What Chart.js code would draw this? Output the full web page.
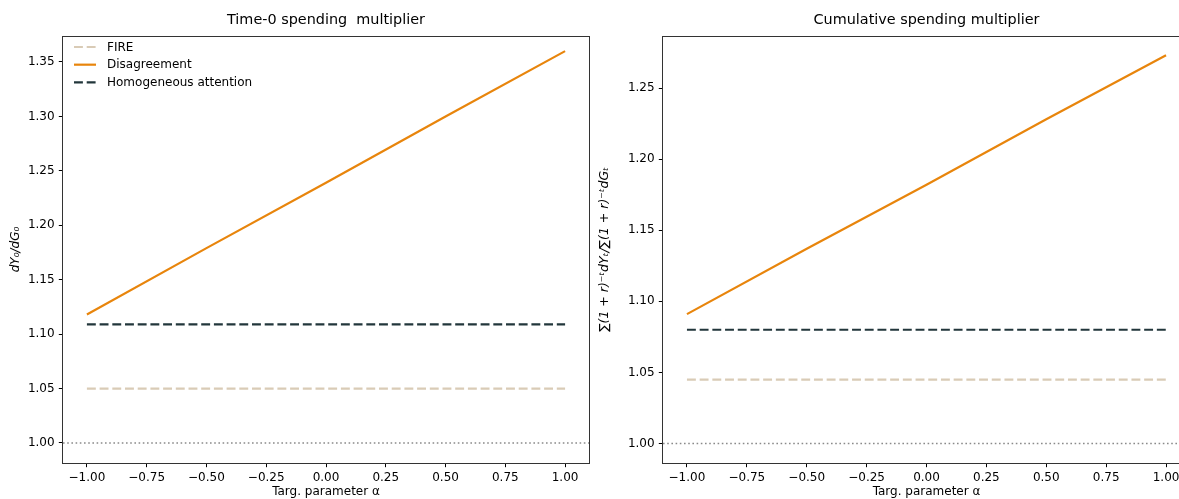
<!DOCTYPE html>
<html>
<head>
<meta charset="utf-8">
<script src="https://cdn.jsdelivr.net/npm/chart.js@4/dist/chart.umd.min.js"></script>
<style>
html,body{margin:0;padding:0;background:#fff;width:1179px;height:499px;overflow:hidden;}
canvas{position:absolute;top:0;}
#c1{left:0;}
#c2{left:595px;}
</style>
</head>
<body>
<canvas id="c1" width="600" height="499"></canvas>
<canvas id="c2" width="595" height="499"></canvas>
<script>
// ---- data ----
const alpha = [-1.0, -0.5, 0.0, 0.5, 1.0];
const refX = [-1.1, 1.1];
const refY = [1.0, 1.0];

const t0Fire = [1.050, 1.050, 1.050, 1.050, 1.050];
const t0Disagreement = [1.118, 1.179, 1.239, 1.300, 1.360];
const t0Homogeneous = [1.109, 1.109, 1.109, 1.109, 1.109];

const cumFire = [1.045, 1.045, 1.045, 1.045, 1.045];
const cumDisagreement = [1.091, 1.137, 1.182, 1.228, 1.273];
const cumHomogeneous = [1.080, 1.080, 1.080, 1.080, 1.080];

const xTicks = [-1.0, -0.75, -0.5, -0.25, 0.0, 0.25, 0.5, 0.75, 1.0];
const yTicksLeft = [1.00, 1.05, 1.10, 1.15, 1.20, 1.25, 1.30, 1.35];
const yTicksRight = [1.00, 1.05, 1.10, 1.15, 1.20, 1.25];

const seriesNames = ['FIRE', 'Disagreement', 'Homogeneous attention'];
const titles = ['Time-0 spending  multiplier', 'Cumulative spending multiplier'];
const xLabel = 'Targ. parameter α';
const yLabels = ['dY₀/dG₀', '∑(1 + r)⁻ᵗdYₜ/∑(1 + r)⁻ᵗdGₜ'];

// ---- styling ----
const FONT = 'DejaVu Sans';
const COLORS = ['#d9cbb6', '#e8850c', '#22363b'];
const DASHES = [[8.9, 3.8], [], [8.9, 3.8]];
Chart.defaults.font.family = FONT;
Chart.defaults.color = '#000';

function fmt(v) {
  const s = Math.abs(v).toFixed(2);
  return (v < -1e-9 ? '\u2212' : '') + s;
}
const pts = (xs, ys) => xs.map((x, i) => ({x: x, y: ys[i]}));

const boxPlugin = {
  id: 'box',
  afterDatasetsDraw(chart) {
    const a = chart.chartArea, ctx = chart.ctx;
    ctx.save();
    ctx.strokeStyle = '#333';
    ctx.lineWidth = 1;
    ctx.strokeRect(Math.round(a.left) - 0.5, Math.round(a.top) + 0.5, Math.round(a.right - a.left) + 1, Math.round(a.bottom - a.top));
    ctx.restore();
  }
};

const legendPlugin = {
  id: 'inlegend',
  afterDraw(chart, args, opts) {
    if (!opts.show) return;
    const a = chart.chartArea, ctx = chart.ctx;
    ctx.save();
    ctx.font = '12px "' + FONT + '"';
    ctx.textBaseline = 'middle';
    ctx.fillStyle = '#000';
    const items = chart.data.datasets.filter(d => d.inLegend);
    items.forEach((d, i) => {
      const y = a.top + 11 + i * 17.7;
      ctx.strokeStyle = d.borderColor;
      ctx.lineWidth = d.borderWidth;
      ctx.setLineDash(d.borderDash || []);
      ctx.beginPath();
      ctx.moveTo(a.left + 11, y);
      ctx.lineTo(a.left + 33, y);
      ctx.stroke();
      ctx.setLineDash([]);
      ctx.fillText(d.label, a.left + 44, y + 0.5);
    });
    ctx.restore();
  }
};

function makeChart(id, cfg) {
  const datasets = [
    {label: 'ref', data: pts(refX, refY), borderColor: '#8a8a8a', borderWidth: 1.6, borderDash: [1.6, 2.6], inLegend: false},
  ];
  cfg.series.forEach((s, i) => {
    datasets.push({
      label: seriesNames[i], data: pts(alpha, s), borderColor: COLORS[i],
      borderWidth: 2.2, borderDash: DASHES[i], inLegend: true
    });
  });
  datasets.forEach(d => { d.pointRadius = 0; d.fill = false; d.tension = 0; d.borderCapStyle = 'butt'; });

  return new Chart(document.getElementById(id), {
    type: 'line',
    data: {datasets: datasets},
    plugins: [boxPlugin, legendPlugin],
    options: {
      responsive: false,
      animation: false,
      devicePixelRatio: 1,
      layout: {padding: {left: 0, right: cfg.padRight, top: 0, bottom: 0}},
      plugins: {
        legend: {display: false},
        tooltip: {enabled: false},
        title: {display: true, text: cfg.title, color: '#000', fullSize: false,
                font: {size: 14.4, family: FONT, weight: 'normal'},
                padding: {top: 12, bottom: 6.7}},
        inlegend: {show: cfg.legend}
      },
      scales: {
        x: {
          type: 'linear', min: -1.1, max: 1.1,
          afterBuildTicks: s => { s.ticks = xTicks.map(v => ({value: v})); },
          afterFit: s => { s.height = 36; },
          ticks: {callback: v => fmt(v), font: {size: 12}, color: '#000', padding: 3.5, maxRotation: 0, autoSkip: false},
          grid: {display: true, drawOnChartArea: false, drawTicks: true, tickLength: 4.2, color: '#000', lineWidth: 1},
          border: {display: false},
          title: {display: true, text: xLabel, font: {size: 12}, color: '#000', padding: {top: 0, bottom: 0}}
        },
        y: {
          type: 'linear', min: cfg.ymin, max: cfg.ymax,
          afterBuildTicks: s => { s.ticks = cfg.yTicks.map(v => ({value: v})); },
          afterFit: s => { s.width = cfg.yWidth; },
          ticks: {callback: v => fmt(v), font: {size: 12}, color: '#000', padding: 4.2, autoSkip: false},
          grid: {display: true, drawOnChartArea: false, drawTicks: true, tickLength: 4.2, color: '#000', lineWidth: 1},
          border: {display: false},
          title: {display: true, text: cfg.yLabel, font: {size: cfg.yLabelSize, style: 'italic'}, color: '#000', padding: {top: cfg.yTitlePad, bottom: 0}}
        }
      }
    }
  });
}

makeChart('c1', {
  title: titles[0], series: [t0Fire, t0Disagreement, t0Homogeneous],
  ymin: 0.9816, ymax: 1.3739, yTicks: yTicksLeft, yWidth: 63, padRight: 11,
  yLabel: yLabels[0], yLabelSize: 12, yTitlePad: 9, legend: true
});
makeChart('c2', {
  title: titles[1], series: [cumFire, cumDisagreement, cumHomogeneous],
  ymin: 0.9863, ymax: 1.2866, yTicks: yTicksRight, yWidth: 68, padRight: 0,
  yLabel: yLabels[1], yLabelSize: 12.5, yTitlePad: 2, legend: false
});
</script>
</body>
</html>
